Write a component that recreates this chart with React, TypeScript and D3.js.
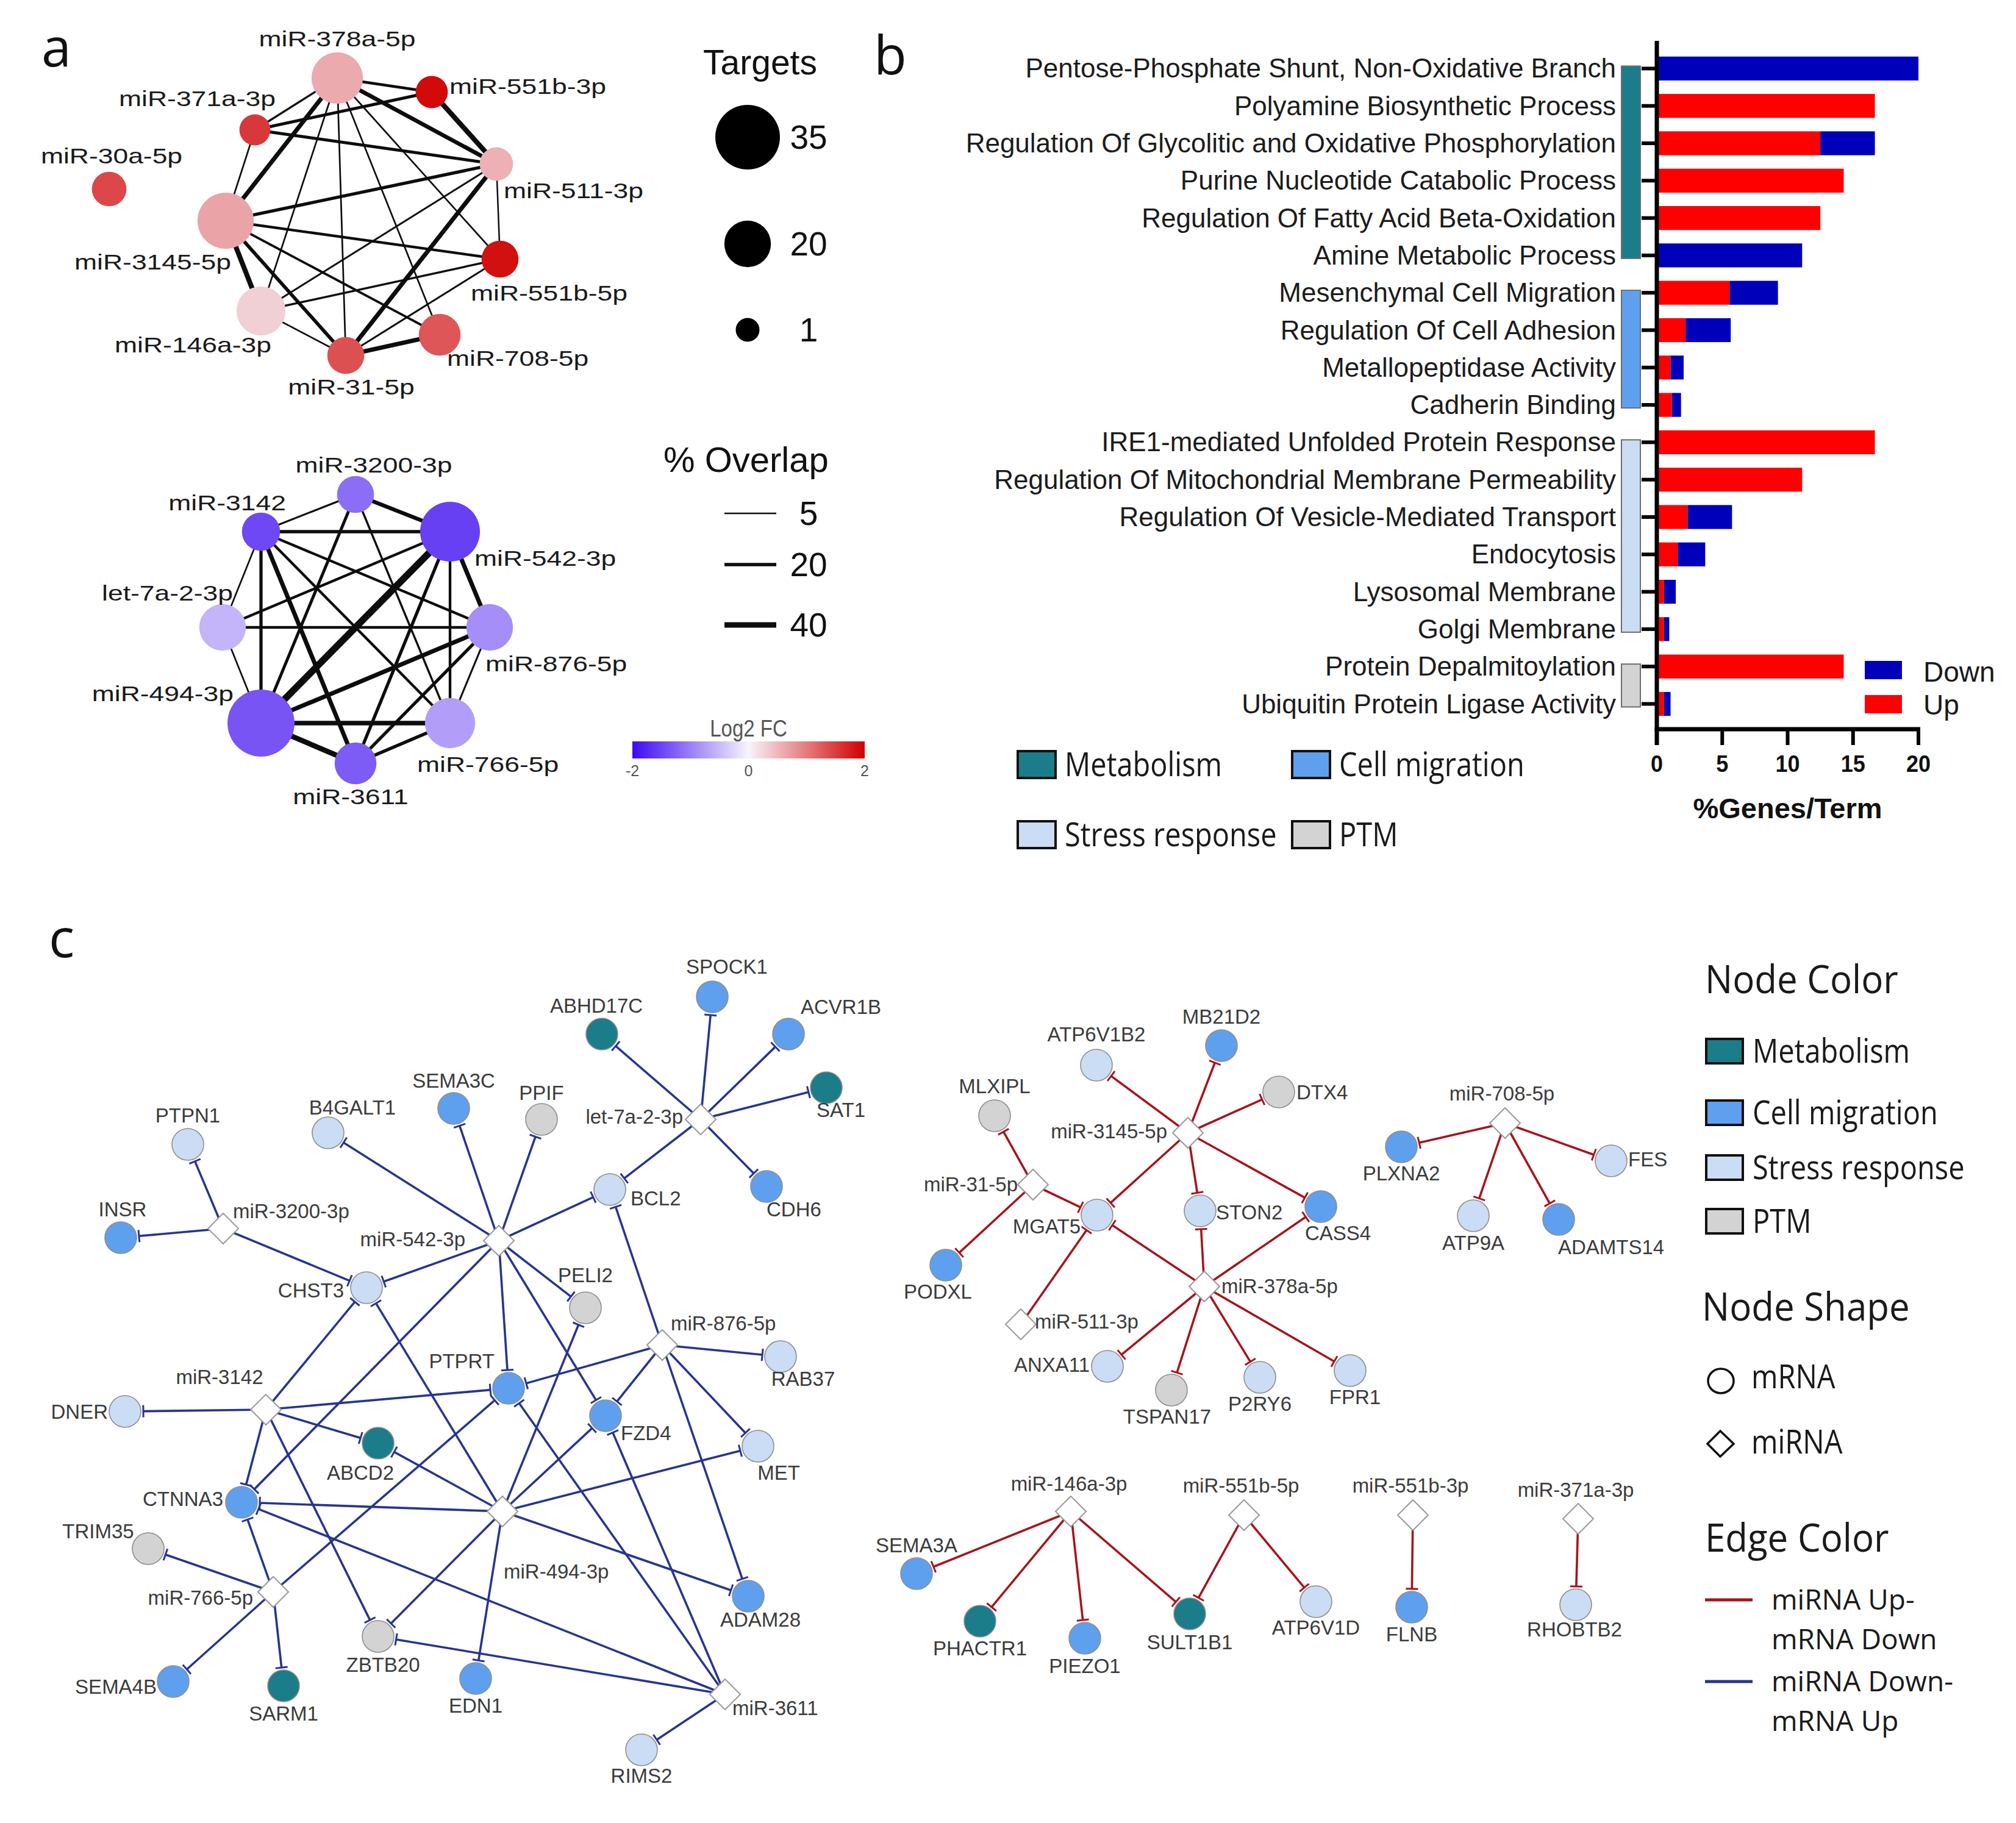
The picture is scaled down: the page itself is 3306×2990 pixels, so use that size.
import React from "react";
import * as d3 from "d3";

const W = 3306;
const H = 2990;
const ARIAL = "'Liberation Sans', Arial, Helvetica, sans-serif";
const OPEN = "'Open Sans', 'Noto Sans', sans-serif";

// ---------------- Panel a : miRNA overlap networks ----------------
const upIds = ["miR-378a-5p", "miR-551b-3p", "miR-371a-3p", "miR-30a-5p", "miR-511-3p", "miR-3145-5p", "miR-551b-5p", "miR-146a-3p", "miR-31-5p", "miR-708-5p"];
const upTargets = [24, 8, 7, 10, 9, 28, 12, 22, 12, 16];
const upLog2FC = [0.61, 1.92, 1.54, 1.41, 0.56, 0.66, 1.87, 0.3, 1.35, 1.3];
const upLayoutX = [553, 708, 418, 179, 814, 370, 820, 428, 567, 721];
const upLayoutY = [128, 151, 213, 310, 269, 362, 425, 510, 583, 549];
const upLabelPlace: [number, number, string][] = [
  [0, -52, "middle"], [29, 3, "start"], [34, -39, "end"], [4, -42, "middle"], [12, 56, "start"],
  [9, 80, "end"], [-48, 68, "start"], [17, 68, "end"], [9, 64, "middle"], [12, 51, "start"],
];
const upOverlap: [string, string, number][] = [
  ["miR-378a-5p", "miR-551b-3p", 15], ["miR-371a-3p", "miR-551b-3p", 18], ["miR-371a-3p", "miR-378a-5p", 10],
  ["miR-371a-3p", "miR-511-3p", 18], ["miR-378a-5p", "miR-511-3p", 28], ["miR-551b-3p", "miR-511-3p", 35],
  ["miR-378a-5p", "miR-3145-5p", 30], ["miR-378a-5p", "miR-146a-3p", 6], ["miR-378a-5p", "miR-31-5p", 6],
  ["miR-378a-5p", "miR-708-5p", 6], ["miR-378a-5p", "miR-551b-5p", 6], ["miR-371a-3p", "miR-3145-5p", 6],
  ["miR-3145-5p", "miR-511-3p", 20], ["miR-3145-5p", "miR-551b-5p", 15], ["miR-3145-5p", "miR-146a-3p", 35],
  ["miR-3145-5p", "miR-31-5p", 22], ["miR-3145-5p", "miR-708-5p", 12], ["miR-146a-3p", "miR-511-3p", 8],
  ["miR-146a-3p", "miR-551b-5p", 10], ["miR-146a-3p", "miR-31-5p", 6], ["miR-31-5p", "miR-511-3p", 30],
  ["miR-31-5p", "miR-551b-5p", 8], ["miR-31-5p", "miR-708-5p", 30], ["miR-511-3p", "miR-551b-5p", 5],
];

const downIds = ["miR-3200-3p", "miR-3142", "miR-542-3p", "let-7a-2-3p", "miR-876-5p", "miR-494-3p", "miR-766-5p", "miR-3611"];
const downTargets = [12, 13, 31, 20, 20, 37, 23, 16];
const downLog2FC = [-1.15, -1.47, -1.54, -0.55, -0.88, -1.37, -0.74, -1.31];
const downLayoutX = [583, 428, 738, 365, 803, 428, 738, 583];
const downLayoutY = [811, 872, 872, 1029, 1029, 1186, 1186, 1252];
const downLabelPlace: [number, number, string][] = [
  [30, -36, "middle"], [41, -35, "end"], [40, 56, "start"], [17, -44, "end"],
  [-7, 72, "start"], [-45, -36, "end"], [-54, 80, "start"], [-8, 67, "middle"],
];
const downOverlap: [string, string, number][] = [
  ["miR-3200-3p", "miR-3142", 8], ["miR-3200-3p", "miR-542-3p", 25], ["miR-3200-3p", "miR-494-3p", 18],
  ["miR-3200-3p", "miR-766-5p", 10], ["miR-3142", "miR-542-3p", 22], ["miR-3142", "miR-876-5p", 15],
  ["miR-3142", "miR-766-5p", 15], ["miR-3142", "miR-3611", 30], ["miR-3142", "miR-494-3p", 20],
  ["miR-3142", "let-7a-2-3p", 6], ["miR-542-3p", "let-7a-2-3p", 15], ["miR-542-3p", "miR-494-3p", 52],
  ["miR-542-3p", "miR-3611", 20], ["miR-542-3p", "miR-766-5p", 15], ["miR-542-3p", "miR-876-5p", 30],
  ["let-7a-2-3p", "miR-876-5p", 15], ["let-7a-2-3p", "miR-494-3p", 6], ["miR-876-5p", "miR-494-3p", 30],
  ["miR-876-5p", "miR-766-5p", 8], ["miR-876-5p", "miR-3611", 20], ["miR-494-3p", "miR-766-5p", 32],
  ["miR-494-3p", "miR-3611", 38], ["miR-766-5p", "miR-3611", 20],
];

const targetLegend = [35, 20, 1];
const overlapLegend = [5, 20, 40];
const fcTicks = [-2, 0, 2];

// ---------------- Panel b : GO enrichment ----------------
const goTerms = [
  "Pentose-Phosphate Shunt, Non-Oxidative Branch",
  "Polyamine Biosynthetic Process",
  "Regulation Of Glycolitic and Oxidative Phosphorylation",
  "Purine Nucleotide Catabolic Process",
  "Regulation Of Fatty Acid Beta-Oxidation",
  "Amine Metabolic Process",
  "Mesenchymal Cell Migration",
  "Regulation Of Cell Adhesion",
  "Metallopeptidase Activity",
  "Cadherin Binding",
  "IRE1-mediated Unfolded Protein Response",
  "Regulation Of Mitochondrial Membrane Permeability",
  "Regulation Of Vesicle-Mediated Transport",
  "Endocytosis",
  "Lysosomal Membrane",
  "Golgi Membrane",
  "Protein Depalmitoylation",
  "Ubiquitin Protein Ligase Activity",
];
const upPct = [0, 16.67, 12.5, 14.29, 12.5, 0, 5.56, 2.2, 1.05, 1.15, 16.67, 11.11, 2.35, 1.6, 0.55, 0.55, 14.29, 0.55];
const downPct = [20, 0, 4.17, 0, 0, 11.11, 3.7, 3.45, 1.0, 0.7, 0, 0, 3.4, 2.1, 0.9, 0.4, 0, 0.5];
const termGroup = [0, 0, 0, 0, 0, 0, 1, 1, 1, 1, 2, 2, 2, 2, 2, 2, 3, 3];
const groupNames = ["Metabolism", "Cell migration", "Stress response", "PTM"];
const pctTicks = [0, 5, 10, 15, 20];

// ---------------- Panel c : miRNA-mRNA network ----------------
const metabolismGenes = ["ABHD17C", "SAT1", "ABCD2", "SARM1", "PHACTR1", "SULT1B1"];
const migrationGenes = ["SPOCK1", "ACVR1B", "CDH6", "SEMA3C", "INSR", "PTPRT", "FZD4", "CTNNA3", "ADAM28", "SEMA4B", "EDN1", "MB21D2", "CASS4", "PODXL", "PLXNA2", "ADAMTS14", "SEMA3A", "PIEZO1", "FLNB"];
const stressGenes = ["PTPN1", "B4GALT1", "BCL2", "CHST3", "RAB37", "DNER", "MET", "RIMS2", "ATP6V1B2", "MGAT5", "STON2", "ANXA11", "P2RY6", "FPR1", "FES", "ATP9A", "ATP6V1D", "RHOBTB2"];
const ptmGenes = ["PPIF", "PELI2", "TRIM35", "ZBTB20", "MLXIPL", "DTX4", "TSPAN17"];

const downMiEdges: [string, string[]][] = [
  ["let-7a-2-3p", ["ABHD17C", "SPOCK1", "ACVR1B", "SAT1", "CDH6", "BCL2"]],
  ["miR-3200-3p", ["PTPN1", "INSR", "CHST3"]],
  ["miR-542-3p", ["B4GALT1", "SEMA3C", "PPIF", "BCL2", "CHST3", "PELI2", "PTPRT", "FZD4", "CTNNA3"]],
  ["miR-876-5p", ["BCL2", "RAB37", "PTPRT", "FZD4", "MET", "ADAM28"]],
  ["miR-3142", ["DNER", "PTPRT", "ABCD2", "CTNNA3", "CHST3", "ZBTB20"]],
  ["miR-494-3p", ["CHST3", "PELI2", "FZD4", "MET", "CTNNA3", "ABCD2", "ADAM28", "ZBTB20", "EDN1"]],
  ["miR-766-5p", ["TRIM35", "CTNNA3", "SEMA4B", "SARM1", "PTPRT"]],
  ["miR-3611", ["RIMS2", "ZBTB20", "CTNNA3", "PTPRT", "FZD4"]],
];
const upMiEdges: [string, string[]][] = [
  ["miR-3145-5p", ["ATP6V1B2", "MB21D2", "DTX4", "MGAT5", "STON2", "CASS4"]],
  ["miR-31-5p", ["MLXIPL", "MGAT5", "PODXL"]],
  ["miR-378a-5p", ["MGAT5", "STON2", "CASS4", "ANXA11", "TSPAN17", "P2RY6", "FPR1"]],
  ["miR-511-3p", ["MGAT5"]],
  ["miR-708-5p", ["PLXNA2", "FES", "ATP9A", "ADAMTS14"]],
  ["miR-146a-3p", ["SEMA3A", "PHACTR1", "PIEZO1", "SULT1B1"]],
  ["miR-551b-5p", ["SULT1B1", "ATP6V1D"]],
  ["miR-551b-3p", ["FLNB"]],
  ["miR-371a-3p", ["RHOBTB2"]],
];

const cLayout: [string, number, number][] = [
  ["let-7a-2-3p", 1149, 1836], ["miR-3200-3p", 366, 2015], ["miR-542-3p", 818, 2035], ["miR-876-5p", 1086, 2206],
  ["miR-3142", 436, 2312], ["miR-494-3p", 824, 2479], ["miR-766-5p", 448, 2611], ["miR-3611", 1189, 2779],
  ["SPOCK1", 1168, 1635], ["ABHD17C", 987, 1696], ["ACVR1B", 1293, 1696], ["SAT1", 1355, 1784], ["CDH6", 1257, 1946],
  ["BCL2", 1000, 1951], ["PTPN1", 308, 1877], ["B4GALT1", 538, 1858], ["SEMA3C", 744, 1818], ["PPIF", 888, 1836],
  ["INSR", 198, 2030], ["CHST3", 601, 2112], ["PELI2", 960, 2145], ["RAB37", 1280, 2225], ["PTPRT", 834, 2277],
  ["DNER", 205, 2315], ["FZD4", 993, 2322], ["ABCD2", 620, 2367], ["MET", 1243, 2372], ["CTNNA3", 396, 2464],
  ["TRIM35", 243, 2540], ["ADAM28", 1227, 2618], ["ZBTB20", 620, 2684], ["SEMA4B", 284, 2758], ["SARM1", 465, 2765],
  ["EDN1", 780, 2753], ["RIMS2", 1052, 2870],
  ["miR-3145-5p", 1948, 1858], ["miR-31-5p", 1694, 1943], ["miR-378a-5p", 1975, 2110], ["miR-511-3p", 1674, 2172],
  ["miR-708-5p", 2468, 1842], ["miR-146a-3p", 1756, 2479], ["miR-551b-5p", 2040, 2485], ["miR-551b-3p", 2317, 2485],
  ["miR-371a-3p", 2588, 2491],
  ["ATP6V1B2", 1798, 1747], ["MB21D2", 2003, 1715], ["DTX4", 2097, 1791], ["MLXIPL", 1631, 1830], ["MGAT5", 1799, 1993],
  ["STON2", 1968, 1986], ["CASS4", 2166, 1979], ["PODXL", 1551, 2075], ["ANXA11", 1816, 2241], ["TSPAN17", 1921, 2280],
  ["P2RY6", 2066, 2259], ["FPR1", 2214, 2248], ["PLXNA2", 2298, 1881], ["FES", 2642, 1904], ["ATP9A", 2416, 1994],
  ["ADAMTS14", 2556, 2000], ["SEMA3A", 1503, 2581], ["PHACTR1", 1607, 2659], ["PIEZO1", 1779, 2687],
  ["SULT1B1", 1951, 2647], ["ATP6V1D", 2158, 2627], ["FLNB", 2315, 2636], ["RHOBTB2", 2584, 2632],
];
const cLabelPlace: [string, number, number, string][] = [
  ["let-7a-2-3p", -29, 7, "end"], ["miR-3200-3p", 16, -17, "start"], ["miR-542-3p", -55, 9, "end"], ["miR-876-5p", 14, -24, "start"],
  ["miR-3142", -76, -42, "middle"], ["miR-494-3p", 2, 110, "start"], ["miR-766-5p", -33, 21, "end"], ["miR-3611", 12, 34, "start"],
  ["SPOCK1", 24, -38, "middle"], ["ABHD17C", -9, -35, "middle"], ["ACVR1B", 20, -33, "start"], ["SAT1", -16, 48, "start"],
  ["CDH6", 0, 49, "start"], ["BCL2", 34, 26, "start"], ["PTPN1", 0, -36, "middle"], ["B4GALT1", 40, -30, "middle"],
  ["SEMA3C", 0, -34, "middle"], ["PPIF", 0, -32, "middle"], ["INSR", 3, -35, "middle"], ["CHST3", -37, 16, "end"],
  ["PELI2", 0, -42, "middle"], ["RAB37", 37, 48, "middle"], ["PTPRT", -23, -33, "end"], ["DNER", -28, 12, "end"],
  ["FZD4", 25, 40, "start"], ["ABCD2", -29, 60, "middle"], ["MET", 34, 55, "middle"], ["CTNNA3", -30, 6, "end"],
  ["TRIM35", -82, -17, "middle"], ["ADAM28", 20, 50, "middle"], ["ZBTB20", 8, 58, "middle"], ["SEMA4B", -27, 20, "end"],
  ["SARM1", 0, 57, "middle"], ["EDN1", 0, 56, "middle"], ["RIMS2", 0, 54, "middle"],
  ["miR-3145-5p", -34, 9, "end"], ["miR-31-5p", -25, 11, "end"], ["miR-378a-5p", 28, 11, "start"], ["miR-511-3p", 23, 7, "start"],
  ["miR-708-5p", -5, -37, "middle"], ["miR-146a-3p", -3, -34, "middle"], ["miR-551b-5p", -5, -37, "middle"],
  ["miR-551b-3p", -4, -37, "middle"], ["miR-371a-3p", -4, -36, "middle"],
  ["ATP6V1B2", 0, -39, "middle"], ["MB21D2", 0, -36, "middle"], ["DTX4", 29, 12, "start"], ["MLXIPL", 0, -37, "middle"],
  ["MGAT5", -27, 30, "end"], ["STON2", 26, 14, "start"], ["CASS4", 28, 55, "middle"], ["PODXL", -13, 55, "middle"],
  ["ANXA11", -29, 9, "end"], ["TSPAN17", -7, 55, "middle"], ["P2RY6", 0, 55, "middle"], ["FPR1", 8, 55, "middle"],
  ["PLXNA2", 0, 55, "middle"], ["FES", 28, 9, "start"], ["ATP9A", 0, 56, "middle"], ["ADAMTS14", 86, 57, "middle"],
  ["SEMA3A", 0, -35, "middle"], ["PHACTR1", 0, 56, "middle"], ["PIEZO1", 0, 57, "middle"], ["SULT1B1", 0, 58, "middle"],
  ["ATP6V1D", 0, 54, "middle"], ["FLNB", 0, 56, "middle"], ["RHOBTB2", -2, 52, "middle"],
];
const nodeLegendShapes = ["mRNA", "miRNA"];
const edgeLegend = [["miRNA Up-", "mRNA Down"], ["miRNA Down-", "mRNA Up"]];

// ---------------- Styles ----------------
const groupColors = ["#1b7d89", "#5fa0ee", "#cbdcf5", "#d3d3d3"];
const UP_EDGE = "#a6141d";
const DOWN_EDGE = "#27358f";
const UP_BAR = "#ff0000";
const DOWN_BAR = "#0000bb";

// ---------------- Scales ----------------
const layout = d3.scaleLinear().domain([0, W]).range([0, W]);
const targetR = d3.scaleLinear().domain([1, 35]).range([19.5, 53]);
const overlapW = d3.scaleLinear().domain([5, 40]).range([2.5, 9]);
const fcColor = d3
  .scaleLinear<string>()
  .domain([-2, 0, 2])
  .range(["#3d0af2", "#f7f5fb", "#d00000"])
  .interpolate(d3.interpolateRgb);
const fcBar = d3.scaleLinear().domain([-2, 2]).range([1037, 1418]);
const pctX = d3.scaleLinear().domain([0, 20]).range([2717, 3146]);
const termY = d3.scaleBand<string>().domain(goTerms).range([81.75, 1185.15]).paddingInner(0.36).paddingOuter(0.18);

type TxtProps = {
  x: number; y: number; size: number; anchor?: string; family?: string; weight?: number | string;
  fill?: string; sx?: number; sy?: number; children: React.ReactNode;
};
function Txt({ x, y, size, anchor = "start", family = ARIAL, weight = 400, fill = "#161616", sx = 1, sy = 1, children }: TxtProps) {
  return (
    <text
      transform={`translate(${x},${y}) scale(${sx},${sy})`}
      fontSize={size}
      fontFamily={family}
      fontWeight={weight}
      textAnchor={anchor as any}
      fill={fill}
    >
      {children}
    </text>
  );
}

function OverlapNetwork(props: {
  ids: string[]; targets: number[]; fc: number[]; lx: number[]; ly: number[];
  labels: [number, number, string][]; edges: [string, string, number][];
}) {
  const { ids, targets, fc, lx, ly, labels, edges } = props;
  const idx = new Map(ids.map((d, i) => [d, i] as [string, number]));
  return (
    <g>
      {edges.map(([s, t, o], k) => {
        const i = idx.get(s)!;
        const j = idx.get(t)!;
        return (
          <line key={k} x1={layout(lx[i])} y1={layout(ly[i])} x2={layout(lx[j])} y2={layout(ly[j])}
            stroke="#0d0d0d" strokeWidth={overlapW(o)} />
        );
      })}
      {ids.map((id, i) => (
        <circle key={id} cx={layout(lx[i])} cy={layout(ly[i])} r={targetR(targets[i])} fill={fcColor(fc[i])} />
      ))}
      {ids.map((id, i) => (
        <Txt key={"l" + id} x={layout(lx[i]) + labels[i][0]} y={layout(ly[i]) + labels[i][1]} size={35}
          anchor={labels[i][2]} sx={1.27} fill="#1a1a1a">
          {id}
        </Txt>
      ))}
    </g>
  );
}

function PanelA() {
  return (
    <g>
      <Txt x={68} y={109} size={88} family={OPEN} fill="#111">a</Txt>
      <OverlapNetwork ids={upIds} targets={upTargets} fc={upLog2FC} lx={upLayoutX} ly={upLayoutY}
        labels={upLabelPlace} edges={upOverlap} />
      <OverlapNetwork ids={downIds} targets={downTargets} fc={downLog2FC} lx={downLayoutX} ly={downLayoutY}
        labels={downLabelPlace} edges={downOverlap} />
      {/* Targets legend */}
      <Txt x={1153} y={122} size={57} fill="#111">Targets</Txt>
      {targetLegend.map((t, i) => {
        const cy = [225, 400, 541][i];
        return (
          <g key={t}>
            <circle cx={1226} cy={cy} r={targetR(t)} fill="#000" />
            <Txt x={1326} y={cy + 19} size={55} anchor="middle" fill="#111">{t}</Txt>
          </g>
        );
      })}
      <Txt x={1088} y={774} size={58} fill="#111">% Overlap</Txt>
      {overlapLegend.map((o, i) => {
        const y = [842, 926, 1025][i];
        return (
          <g key={o}>
            <line x1={1188} x2={1273} y1={y} y2={y} stroke="#0d0d0d" strokeWidth={overlapW(o)} />
            <Txt x={1326} y={y + 19} size={55} anchor="middle" fill="#111">{o}</Txt>
          </g>
        );
      })}
      {/* colour bar */}
      <defs>
        <linearGradient id="fcGrad" x1="0" x2="1" y1="0" y2="0">
          {d3.range(0, 1.0001, 0.05).map((t) => (
            <stop key={t} offset={t} stopColor={fcColor(-2 + 4 * t)} />
          ))}
        </linearGradient>
      </defs>
      <Txt x={fcBar(0)} y={1208} size={33} anchor="middle" fill="#555" sy={1.15}>Log2 FC</Txt>
      <rect x={fcBar(-2)} y={1216} width={fcBar(2) - fcBar(-2)} height={28} fill="url(#fcGrad)" />
      {fcTicks.map((t) => (
        <Txt key={t} x={fcBar(t)} y={1273} size={25} anchor="middle" fill="#555">{t}</Txt>
      ))}
    </g>
  );
}

function PanelB() {
  const bw = termY.bandwidth();
  const axisBottom = 1196;
  return (
    <g>
      <Txt x={1433} y={122} size={88} family={OPEN} fill="#111">b</Txt>
      {goTerms.map((t) => (
        <Txt key={t} x={2650} y={(termY(t) as number) + bw / 2 + 15} size={44} anchor="end" fill="#1c1c1c">{t}</Txt>
      ))}
      {/* category brackets */}
      {groupNames.map((g, gi) => {
        const rows = goTerms.filter((_, i) => termGroup[i] === gi);
        const y0 = (termY(rows[0]) as number) + bw / 2 - 4;
        const y1 = (termY(rows[rows.length - 1]) as number) + bw / 2 + 5;
        return <rect key={g} x={2659} y={y0} width={31} height={y1 - y0} fill={groupColors[gi]} stroke="#6d6d6d" strokeWidth={2} />;
      })}
      {/* bars */}
      {goTerms.map((t, i) => {
        const y = termY(t) as number;
        return (
          <g key={t}>
            {upPct[i] > 0 && <rect x={pctX(0)} y={y} width={pctX(upPct[i]) - pctX(0)} height={bw} fill={UP_BAR} />}
            {downPct[i] > 0 && (
              <rect x={pctX(upPct[i])} y={y} width={pctX(upPct[i] + downPct[i]) - pctX(upPct[i])} height={bw} fill={DOWN_BAR} />
            )}
          </g>
        );
      })}
      {/* axes */}
      {goTerms.map((t) => {
        const yc = (termY(t) as number) + bw / 2;
        return <line key={t} x1={2692} x2={2717} y1={yc} y2={yc} stroke="#000" strokeWidth={6} />;
      })}
      <line x1={pctX(0)} x2={pctX(0)} y1={67} y2={axisBottom + 26} stroke="#000" strokeWidth={7} />
      <line x1={pctX(0) - 3.5} x2={pctX(20) + 3} y1={axisBottom} y2={axisBottom} stroke="#000" strokeWidth={7} />
      {pctTicks.map((v) => (
        <g key={v}>
          <line x1={pctX(v)} x2={pctX(v)} y1={axisBottom} y2={axisBottom + 26} stroke="#000" strokeWidth={6} />
          <Txt x={pctX(v)} y={1266} size={36} anchor="middle" weight={700} fill="#111" sy={1.1}>{v}</Txt>
        </g>
      ))}
      <Txt x={pctX(10)} y={1342} size={47} anchor="middle" weight={700} fill="#111">%Genes/Term</Txt>
      {/* Up / Down legend */}
      <rect x={3058} y={1084} width={61} height={30} fill={DOWN_BAR} />
      <Txt x={3154} y={1118} size={46} fill="#1a1a1a">Down</Txt>
      <rect x={3058} y={1140} width={61} height={30} fill={UP_BAR} />
      <Txt x={3154} y={1172} size={46} fill="#1a1a1a">Up</Txt>
      {/* category legend */}
      {groupNames.map((g, gi) => {
        const x = [1669, 2119][gi % 2];
        const y = [1232, 1347][Math.floor(gi / 2)];
        return (
          <g key={g}>
            <rect x={x} y={y} width={62} height={44} fill={groupColors[gi]} stroke="#111" strokeWidth={4} />
            <Txt x={x + 77} y={y + 41} size={47} family={OPEN} sy={1.15} fill="#1a1a1a">{g}</Txt>
          </g>
        );
      })}
    </g>
  );
}

function PanelC() {
  const pos = new Map(cLayout.map(([id, x, y]) => [id, [layout(x), layout(y)]] as [string, number[]]));
  const groupOf = new Map<string, number>();
  [metabolismGenes, migrationGenes, stressGenes, ptmGenes].forEach((list, gi) => list.forEach((g) => groupOf.set(g, gi)));
  const NODE_R = 26;
  const DIA = 25;
  const edgeEls: React.ReactNode[] = [];
  const addEdges = (list: [string, string[]][], color: string) => {
    list.forEach(([mi, targets]) => {
      const [x1, y1] = pos.get(mi)!;
      targets.forEach((t) => {
        const [x2, y2] = pos.get(t)!;
        const dx = x2 - x1;
        const dy = y2 - y1;
        const L = Math.hypot(dx, dy);
        const ux = dx / L;
        const uy = dy / L;
        const ex = x2 - ux * (NODE_R + 4);
        const ey = y2 - uy * (NODE_R + 4);
        const px = -uy;
        const py = ux;
        edgeEls.push(
          <g key={mi + "-" + t}>
            <line x1={x1} y1={y1} x2={ex} y2={ey} stroke={color} strokeWidth={3.6} />
            <line x1={ex + px * 10} y1={ey + py * 10} x2={ex - px * 10} y2={ey - py * 10} stroke={color} strokeWidth={3} />
          </g>
        );
      });
    });
  };
  addEdges(downMiEdges, DOWN_EDGE);
  addEdges(upMiEdges, UP_EDGE);
  const labelMap = new Map(cLabelPlace.map((d) => [d[0], d] as [string, [string, number, number, string]]));
  return (
    <g>
      <Txt x={80} y={1570} size={88} family={OPEN} fill="#111">c</Txt>
      {edgeEls}
      {cLayout.map(([id]) => {
        const [x, y] = pos.get(id)!;
        if (groupOf.has(id)) {
          return <circle key={id} cx={x} cy={y} r={NODE_R} fill={groupColors[groupOf.get(id)!]} stroke="#8e8e8e" strokeWidth={1.6} />;
        }
        return (
          <path key={id} d={`M${x},${y - DIA}L${x + DIA},${y}L${x},${y + DIA}L${x - DIA},${y}Z`}
            fill="#fff" stroke="#9a9a9a" strokeWidth={2} />
        );
      })}
      {cLayout.map(([id]) => {
        const [x, y] = pos.get(id)!;
        const l = labelMap.get(id)!;
        return (
          <Txt key={"t" + id} x={x + l[1]} y={y + l[2]} size={33} anchor={l[3]} fill="#3b3b3b">{id}</Txt>
        );
      })}
      {/* legend */}
      <Txt x={2796} y={1629} size={60} family={OPEN} sy={1.07} fill="#1a1a1a">Node Color</Txt>
      {groupNames.map((g, gi) => {
        const y = [1704, 1805, 1895, 1983][gi];
        return (
          <g key={g}>
            <rect x={2798} y={y} width={60} height={40} fill={groupColors[gi]} stroke="#111" strokeWidth={4} />
            <Txt x={2874} y={y + 39} size={47} family={OPEN} sy={1.15} fill="#1a1a1a">{g}</Txt>
          </g>
        );
      })}
      <Txt x={2791} y={2166} size={60} family={OPEN} sy={1.07} fill="#1a1a1a">Node Shape</Txt>
      <ellipse cx={2822} cy={2265} rx={21} ry={20} fill="none" stroke="#111" strokeWidth={3.5} />
      <path d="M2800,2368L2821,2347L2843,2368L2821,2389Z" fill="none" stroke="#111" strokeWidth={3.5} />
      {nodeLegendShapes.map((s, i) => (
        <Txt key={s} x={2872} y={[2277, 2384][i]} size={47} family={OPEN} sy={1.15} fill="#1a1a1a">{s}</Txt>
      ))}
      <Txt x={2796} y={2545} size={60} family={OPEN} sy={1.07} fill="#1a1a1a">Edge Color</Txt>
      {edgeLegend.map((lines, i) => {
        const y = [2624, 2758][i];
        return (
          <g key={i}>
            <line x1={2796} x2={2874} y1={y} y2={y} stroke={i === 0 ? UP_EDGE : DOWN_EDGE} strokeWidth={5} />
            <Txt x={2905} y={y + 16} size={46} family={OPEN} fill="#1a1a1a">{lines[0]}</Txt>
            <Txt x={2905} y={y + 81} size={46} family={OPEN} fill="#1a1a1a">{lines[1]}</Txt>
          </g>
        );
      })}
    </g>
  );
}

export default function App() {
  return (
    <svg
      width={W}
      height={H}
      viewBox={`0 0 ${W} ${H}`}
      style={{ position: "absolute", left: 0, top: 0, background: "#fff" }}
    >
      <rect x={0} y={0} width={W} height={H} fill="#fff" />
      <PanelA />
      <PanelB />
      <PanelC />
    </svg>
  );
}
